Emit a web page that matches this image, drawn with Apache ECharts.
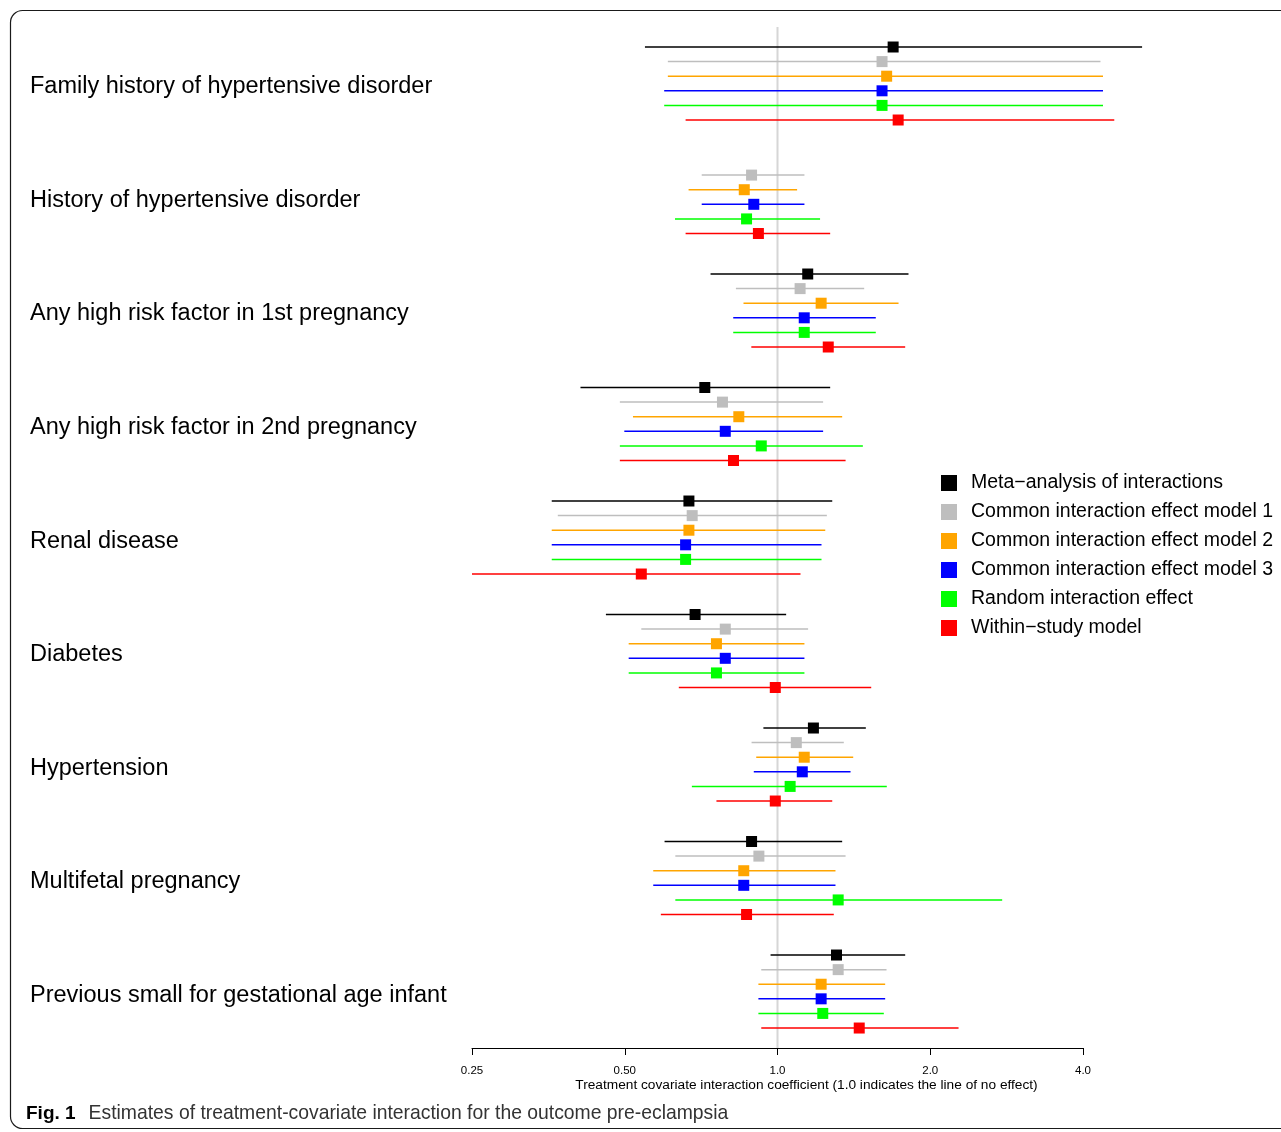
<!DOCTYPE html>
<html>
<head>
<meta charset="utf-8">
<script src="https://cdn.jsdelivr.net/npm/echarts@6/dist/echarts.min.js"></script>
<style>
html,body{margin:0;padding:0;background:#fff;}
#chart{width:1281px;height:1132px;}
</style>
</head>
<body>
<div id="chart"></div>
<script>
// ---- data ----
const categories = [
  'Family history of hypertensive disorder',
  'History of hypertensive disorder',
  'Any high risk factor in 1st pregnancy',
  'Any high risk factor in 2nd pregnancy',
  'Renal disease',
  'Diabetes',
  'Hypertension',
  'Multifetal pregnancy',
  'Previous small for gestational age infant'
];
const seriesNames = [
  'Meta\u2212analysis of interactions',
  'Common interaction effect model 1',
  'Common interaction effect model 2',
  'Common interaction effect model 3',
  'Random interaction effect',
  'Within\u2212study model'
];
const seriesColors = ['#000000', '#BEBEBE', '#FFA500', '#0000FF', '#00FF00', '#FF0000'];
const tickValues = [0.25, 0.5, 1, 2, 4];
const tickLabels = ['0.25', '0.50', '1.0', '2.0', '4.0'];
const noEffect = [1];

const metaEst = [1.690, null, 1.147, 0.719, 0.669, 0.688, 1.177, 0.889, 1.307];
const metaLo  = [0.548, null, 0.738, 0.409, 0.359, 0.459, 0.938, 0.599, 0.969];
const metaHi  = [5.230, null, 1.812, 1.270, 1.282, 1.040, 1.493, 1.341, 1.785];

const cm1Est = [1.607, 0.889, 1.108, 0.779, 0.679, 0.789, 1.089, 0.919, 1.317];
const cm1Lo  = [0.608, 0.709, 0.828, 0.489, 0.369, 0.539, 0.889, 0.629, 0.929];
const cm1Hi  = [4.330, 1.130, 1.482, 1.230, 1.251, 1.149, 1.351, 1.362, 1.640];

const cm2Est = [1.641, 0.860, 1.219, 0.839, 0.669, 0.758, 1.129, 0.858, 1.219];
const cm2Lo  = [0.608, 0.668, 0.857, 0.519, 0.359, 0.509, 0.908, 0.569, 0.917];
const cm2Hi  = [4.380, 1.093, 1.732, 1.341, 1.242, 1.130, 1.410, 1.301, 1.630];

const cm3Est = [1.607, 0.898, 1.129, 0.789, 0.659, 0.789, 1.119, 0.858, 1.219];
const cm3Lo  = [0.598, 0.709, 0.818, 0.499, 0.359, 0.509, 0.898, 0.569, 0.917];
const cm3Hi  = [4.380, 1.130, 1.562, 1.230, 1.221, 1.130, 1.393, 1.301, 1.630];

const randEst = [1.607, 0.869, 1.129, 0.929, 0.659, 0.758, 1.059, 1.317, 1.228];
const randLo  = [0.598, 0.628, 0.818, 0.489, 0.359, 0.509, 0.678, 0.629, 0.917];
const randHi  = [4.380, 1.213, 1.562, 1.473, 1.221, 1.130, 1.642, 2.772, 1.620];

const withinEst = [1.729, 0.917, 1.259, 0.819, 0.539, 0.990, 0.990, 0.869, 1.449];
const withinLo  = [0.659, 0.659, 0.888, 0.489, 0.250, 0.639, 0.758, 0.589, 0.929];
const withinHi  = [4.610, 1.270, 1.785, 1.362, 1.110, 1.530, 1.282, 1.291, 2.274];

const allEst = [metaEst, cm1Est, cm2Est, cm3Est, randEst, withinEst];
const allLo  = [metaLo, cm1Lo, cm2Lo, cm3Lo, randLo, withinLo];
const allHi  = [metaHi, cm1Hi, cm2Hi, cm3Hi, randHi, withinHi];

// ---- layout (row slots on the y value axis) ----
const GROUP_STEP = 7.774;   // rows per group slot (6 rows + gap)
const LABEL_OFFSET = 2.74;

function renderCI(params, api) {
  const y = api.value(3);
  const pLo = api.coord([api.value(1), y]);
  const pHi = api.coord([api.value(2), y]);
  const pE = api.coord([api.value(0), y]);
  const color = api.visual('color');
  const s = 11;
  return {
    type: 'group',
    children: [
      {type: 'line', shape: {x1: pLo[0], y1: pLo[1], x2: pHi[0], y2: pHi[1]},
       style: {stroke: color, lineWidth: 1.5}},
      {type: 'rect', shape: {x: pE[0] - s / 2, y: pE[1] - s / 2, width: s, height: s},
       style: {fill: color}}
    ]
  };
}

function renderRef(params, api) {
  const cs = params.coordSys;
  const x = api.coord([api.value(0), 0])[0];
  return {
    type: 'line',
    shape: {x1: x, y1: cs.y, x2: x, y2: cs.y + cs.height},
    style: {stroke: '#D6D6D6', lineWidth: 2}
  };
}

const series = [{
  type: 'custom',
  name: 'ref',
  silent: true,
  z: 1,
  renderItem: renderRef,
  encode: {x: 0},
  data: noEffect.map(function (v) { return [v]; })
}];
seriesNames.forEach(function (name, s) {
  const data = [];
  categories.forEach(function (c, g) {
    if (allEst[s][g] == null) return;
    data.push([allEst[s][g], allLo[s][g], allHi[s][g], g * GROUP_STEP + s]);
  });
  series.push({
    name: name,
    type: 'custom',
    renderItem: renderCI,
    clip: false,
    z: 3,
    itemStyle: {color: seriesColors[s]},
    encode: {x: [0, 1, 2], y: 3},
    data: data
  });
});

const labelValues = categories.map(function (c, g) { return g * GROUP_STEP + LABEL_OFFSET; });

const chart = echarts.init(document.getElementById('chart'), null, {renderer: 'canvas'});
chart.setOption({
  animation: false,
  backgroundColor: '#ffffff',
  color: seriesColors,
  grid: {left: 472, right: 198, top: 27, bottom: 84, containLabel: false},
  xAxis: {
    type: 'log',
    logBase: 2,
    min: 0.25,
    max: 4,
    interval: 1,
    axisLine: {show: true, onZero: false, lineStyle: {color: '#000', width: 1}},
    axisTick: {show: true, length: 7, lineStyle: {color: '#000', width: 1}},
    splitLine: {show: false},
    axisLabel: {
      margin: 17,
      fontFamily: 'Liberation Sans, Arial, sans-serif',
      fontSize: 11.5,
      color: '#000',
      showMinLabel: true,
      showMaxLabel: true,
      formatter: function (v) {
        let best = 0;
        tickValues.forEach(function (t, i) {
          if (Math.abs(Math.log2(t) - Math.log2(v)) < Math.abs(Math.log2(tickValues[best]) - Math.log2(v))) best = i;
        });
        return tickLabels[best];
      }
    },
    name: 'Treatment covariate interaction coefficient (1.0 indicates the line of no effect)',
    nameLocation: 'middle',
    nameGap: 30,
    nameMoveOverlap: false,
    nameTextStyle: {
      fontFamily: 'Liberation Sans, Arial, sans-serif',
      fontSize: 13.7,
      color: '#000',
      padding: [0, 0, 0, 58]
    }
  },
  yAxis: {
    type: 'value',
    inverse: true,
    min: -1.37,
    max: 68.56,
    axisLine: {show: false},
    axisTick: {show: false},
    splitLine: {show: false},
    axisLabel: {
      show: true,
      customValues: labelValues,
      align: 'left',
      margin: 442,
      fontFamily: 'Liberation Sans, Arial, sans-serif',
      fontSize: 23.5,
      color: '#000',
      formatter: function (v) {
        const g = Math.round((v - LABEL_OFFSET) / GROUP_STEP);
        return categories[g] || '';
      }
    }
  },
  legend: {
    orient: 'vertical',
    left: 941,
    top: 473,
    padding: 0,
    icon: 'rect',
    itemWidth: 16,
    itemHeight: 16,
    itemGap: 9,
    selectedMode: false,
    textStyle: {
      fontFamily: 'Liberation Sans, Arial, sans-serif',
      fontSize: 19.5,
      color: '#000',
      lineHeight: 16,
      padding: [0, 0, 0, 9]
    },
    data: seriesNames
  },
  graphic: [
    {
      type: 'rect',
      silent: true,
      z: 0,
      shape: {x: 10.5, y: 10.5, width: 1310, height: 1118, r: 12},
      style: {fill: 'none', stroke: '#1a1a1a', lineWidth: 1.2}
    },
    {
      type: 'text',
      silent: true,
      left: 26,
      top: 1104,
      style: {
        text: '{b|Fig. 1}{n|Estimates of treatment-covariate interaction for the outcome pre-eclampsia}',
        rich: {
          b: {fontFamily: 'Liberation Sans Narrow, Liberation Sans, Arial, sans-serif', fontWeight: 'bold', fontSize: 19, fill: '#000', padding: [0, 13, 0, 0]},
          n: {fontFamily: 'Liberation Sans Narrow, Liberation Sans, Arial, sans-serif', fontSize: 19.35, fill: '#333'}
        }
      }
    }
  ],
  series: series
});
</script>
</body>
</html>
